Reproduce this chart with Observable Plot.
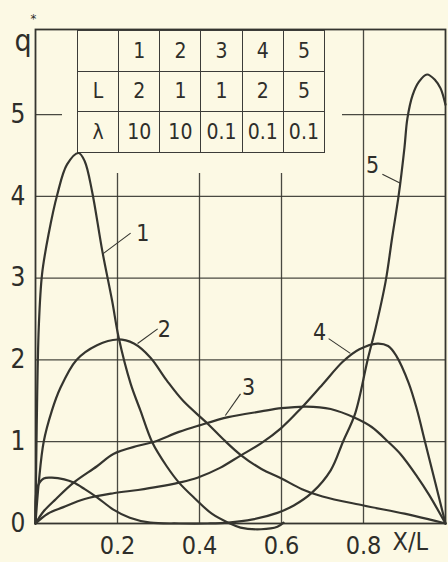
<!DOCTYPE html>
<html><head><meta charset="utf-8">
<script src="https://cdn.jsdelivr.net/npm/d3@7"></script>
<script src="https://cdn.jsdelivr.net/npm/@observablehq/plot@0.6"></script>
<style>
body{margin:0;background:#fcf9e4;}
#wrap{position:relative;width:448px;height:562px;overflow:hidden;background:#fcf9e4;font-family:"Liberation Sans Narrow","DejaVu Sans Condensed",sans-serif;}
#wrap svg{position:absolute;left:0;top:0;}
#cover{position:absolute;left:62px;top:31px;width:280px;height:142px;background:#fcf9e4;}
#tbl{position:absolute;left:77px;top:30px;width:248px;height:123px;border-collapse:collapse;table-layout:fixed;}
#tbl td{border:1.5px solid #3c3c38;text-align:center;font-size:21px;color:#2e2e2a;padding:0;}
</style></head><body><div id="wrap"></div>
<script>
// ---- data ----
const xTicks = [0.2, 0.4, 0.6, 0.8];
const yTicks = [0, 1, 2, 3, 4, 5];
const gridYValues = [1, 2, 3, 4, 5];

const tableHeader = ["", "1", "2", "3", "4", "5"];
const tableRowL = ["L", "2", "1", "1", "2", "5"];
const tableRowLambda = ["λ", "10", "10", "0.1", "0.1", "0.1"];

const curve1X = [0, 0.003, 0.008, 0.016, 0.032, 0.053, 0.077, 0.105, 0.12, 0.138, 0.163, 0.187, 0.203, 0.232, 0.256, 0.285, 0.32, 0.35, 0.39, 0.43, 0.47, 0.5, 0.55, 0.59, 0.605];
const curve1Y = [0, 1.2, 2.4, 3.05, 3.54, 4.02, 4.39, 4.53, 4.43, 4.06, 3.33, 2.72, 2.27, 1.71, 1.38, 0.99, 0.7, 0.5, 0.3, 0.12, 0.01, -0.05, -0.07, -0.04, 0.01];

const curve2X = [0, 0.008, 0.02, 0.04, 0.06, 0.1, 0.15, 0.2, 0.24, 0.28, 0.32, 0.36, 0.42, 0.46, 0.5, 0.55, 0.6, 0.65, 0.7, 0.8, 0.9, 0.96, 1.0];
const curve2Y = [0, 0.5, 1.0, 1.38, 1.65, 2.0, 2.18, 2.25, 2.2, 2.03, 1.75, 1.5, 1.22, 1.02, 0.84, 0.67, 0.55, 0.42, 0.33, 0.22, 0.12, 0.05, 0];

const curve3X = [0, 0.02, 0.05, 0.093, 0.15, 0.19, 0.25, 0.29, 0.35, 0.4, 0.47, 0.55, 0.6, 0.66, 0.72, 0.78, 0.82, 0.86, 0.89, 0.93, 0.96, 1.0];
const curve3Y = [0, 0.15, 0.3, 0.5, 0.7, 0.85, 0.95, 1.0, 1.12, 1.2, 1.3, 1.37, 1.41, 1.43, 1.4, 1.29, 1.18, 1.0, 0.85, 0.58, 0.35, 0];

const curve4X = [0, 0.03, 0.068, 0.12, 0.19, 0.25, 0.3, 0.35, 0.395, 0.45, 0.5, 0.55, 0.6, 0.646, 0.7, 0.75, 0.79, 0.834, 0.86, 0.88, 0.91, 0.93, 0.95, 0.975, 1.0];
const curve4Y = [0, 0.12, 0.2, 0.3, 0.37, 0.41, 0.45, 0.5, 0.56, 0.68, 0.83, 0.98, 1.17, 1.4, 1.7, 1.98, 2.13, 2.2, 2.17, 2.05, 1.72, 1.4, 1.0, 0.5, 0];

const curve5X = [0, 0.005, 0.02, 0.04, 0.07, 0.093, 0.12, 0.15, 0.19, 0.23, 0.28, 0.35, 0.42, 0.47, 0.53, 0.59, 0.63, 0.675, 0.72, 0.75, 0.78, 0.81, 0.83, 0.854, 0.87, 0.886, 0.9, 0.907, 0.92, 0.935, 0.955, 0.975, 0.988, 1.0];
const curve5Y = [0, 0.45, 0.55, 0.56, 0.54, 0.5, 0.42, 0.32, 0.17, 0.07, 0.01, 0, 0, 0.01, 0.05, 0.13, 0.22, 0.38, 0.65, 1.0, 1.35, 2.0, 2.4, 2.96, 3.5, 4.02, 4.6, 4.95, 5.24, 5.4, 5.49, 5.42, 5.32, 5.12];

const labelIds = ["1", "2", "3", "4", "5"];
const labelCurveX = [0.165, 0.249, 0.463, 0.768, 0.89];
const labelCurveY = [3.3, 2.2, 1.32, 2.08, 4.16];
const labelTipX = [0.232, 0.298, 0.5, 0.715, 0.846];
const labelTipY = [3.55, 2.38, 1.585, 2.26, 4.27];
const labelTextX = [0.262, 0.314, 0.52, 0.693, 0.822];
const labelTextY = [3.55, 2.37, 1.66, 2.33, 4.38];

// ---- build tables ----
const seriesX = [curve1X, curve2X, curve3X, curve4X, curve5X];
const seriesY = [curve1Y, curve2Y, curve3Y, curve4Y, curve5Y];
const curveRows = seriesX.flatMap((xs, i) => xs.map((x, j) => ({series: labelIds[i], x, y: seriesY[i][j]})));
const labelRows = labelIds.map((id, i) => ({id, x1: labelCurveX[i], y1: labelCurveY[i], x2: labelTipX[i], y2: labelTipY[i], tx: labelTextX[i], ty: labelTextY[i]}));

const ink = "#35352f";
const font = "'Liberation Sans Narrow','DejaVu Sans Condensed',sans-serif";
const common = {width: 448, height: 562, marginLeft: 35, marginRight: 3, marginTop: 29, marginBottom: 39};

const back = Plot.plot({
  ...common,
  style: {background: "transparent", fontFamily: font, fontSize: "25px", color: "#2e2e2a"},
  x: {domain: [0, 1]},
  y: {domain: [0, 6.04]},
  marks: [
    Plot.gridX(xTicks, {stroke: ink, strokeOpacity: 0.9, strokeWidth: 1.3}),
    Plot.gridY(gridYValues, {stroke: ink, strokeOpacity: 0.9, strokeWidth: 1.3}),
    Plot.frame({stroke: ink, strokeWidth: 1.8}),
    Plot.axisX(xTicks, {tickSize: 0, tickPadding: 13, tickFormat: d => d.toFixed(1), label: null, fontSize: 25}),
    Plot.axisY(yTicks, {tickSize: 0, tickPadding: 10, tickFormat: d => String(d), label: null, fontSize: 26}),
    Plot.text(["X/L"], {frameAnchor: "bottom-right", textAnchor: "start", dx: -53, dy: 26, fontSize: 25, fill: "#2e2e2a"}),
    Plot.text(["q"], {frameAnchor: "top-left", dx: -21, dy: 0, fontSize: 30, fill: "#2e2e2a"}),
    Plot.text(["*"], {frameAnchor: "top-left", dx: -5, dy: -16, fontSize: 13, fill: "#2e2e2a"})
  ]
});

const front = Plot.plot({
  ...common,
  style: {background: "transparent", fontFamily: font, color: "#2e2e2a"},
  x: {domain: [0, 1], axis: null},
  y: {domain: [0, 6.04], axis: null},
  marks: [
    Plot.line(curveRows, {x: "x", y: "y", z: "series", curve: "catmull-rom", stroke: ink, strokeWidth: 2.2}),
    Plot.link(labelRows, {x1: "x1", y1: "y1", x2: "x2", y2: "y2", stroke: ink, strokeWidth: 1.1}),
    Plot.text(labelRows, {x: "tx", y: "ty", text: "id", fontSize: 23, fill: "#2e2e2a"})
  ]
});

const wrap = document.getElementById("wrap");
wrap.appendChild(back);
const cover = document.createElement("div");
cover.id = "cover";
wrap.appendChild(cover);
const tbl = document.createElement("table");
tbl.id = "tbl";
for (const row of [tableHeader, tableRowL, tableRowLambda]) {
  const tr = document.createElement("tr");
  for (const cell of row) {
    const td = document.createElement("td");
    td.textContent = cell;
    tr.appendChild(td);
  }
  tbl.appendChild(tr);
}
wrap.appendChild(tbl);
wrap.appendChild(front);
</script>
</body></html>
